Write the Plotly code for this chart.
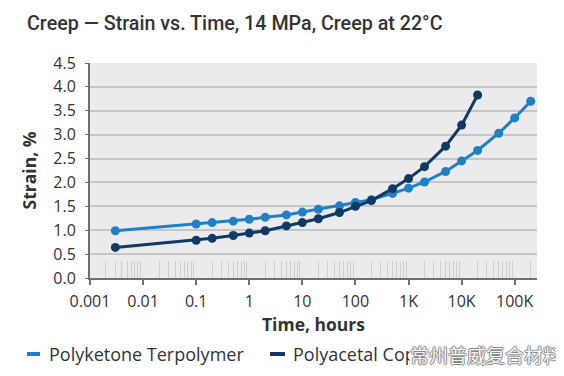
import plotly.graph_objects as go

# Data
time_pk = [0.003, 0.1, 0.2, 0.5, 1, 2, 5, 10, 20, 50, 100, 200, 500, 1000, 2000, 5000,
           10000, 20000, 50000, 100000, 200000]
strain_pk = [0.99, 1.13, 1.16, 1.19, 1.23, 1.27, 1.32, 1.38, 1.44, 1.51, 1.58, 1.64, 1.77,
             1.88, 2.01, 2.23, 2.45, 2.67, 3.03, 3.35, 3.70]

time_pa = [0.003, 0.1, 0.2, 0.5, 1, 2, 5, 10, 20, 50, 100, 200, 500, 1000, 2000, 5000,
           10000, 20000]
strain_pa = [0.64, 0.79, 0.83, 0.89, 0.94, 0.99, 1.09, 1.16, 1.24, 1.37, 1.50, 1.62, 1.87,
             2.08, 2.33, 2.76, 3.20, 3.83]

x_tickvals = [0.001, 0.01, 0.1, 1, 10, 100, 1000, 10000, 100000]
x_ticktext = ["0.001", "0.01", "0.1", "1", "10", "100", "1K", "10K", "100K"]
y_tickvals = [0, 0.5, 1.0, 1.5, 2.0, 2.5, 3.0, 3.5, 4.0, 4.5]
y_ticktext = ["0.0", "0.5", "1.0", "1.5", "2.0", "2.5", "3.0", "3.5", "4.0", "4.5"]

series_names = ["Polyketone Terpolymer", "Polyacetal Copolymer"]
colors = ["#1f80c8", "#0e3a63"]
watermark = "常州普威复合材料"

FONT = "Open Sans"

# minor log ticks (axis decoration)
minor_vals = [m * 10 ** k for k in range(-3, 6) for m in range(2, 10)]

# figure geometry (page has an 8px body margin)
W, H = 556, 368
ML, MR, MT, MB = 82, 27, 55, 98
PW, PH = W - ML - MR, H - MT - MB


def px(page_x):
    return (page_x - 8 - ML) / PW


def py(page_y):
    return 1 - (page_y - 8 - MT) / PH


fig = go.Figure()
for t, s, name, c in [(time_pk, strain_pk, series_names[0], colors[0]),
                      (time_pa, strain_pa, series_names[1], colors[1])]:
    fig.add_trace(go.Scatter(x=t, y=s, mode="lines+markers", name=name,
                             line=dict(color=c, width=3),
                             marker=dict(color=c, size=9),
                             showlegend=False))

fig.update_layout(
    width=W, height=H,
    margin=dict(l=ML, r=MR, t=MT, b=MB),
    paper_bgcolor="white",
    plot_bgcolor="#ebebed",
    font=dict(family=FONT, color="#333333", size=16),
    title=dict(text="Creep — Strain vs. Time, 14 MPa, Creep at 22°C",
               x=19 / W, xanchor="left", y=1 - 15 / H, yanchor="middle",
               font=dict(family="Roboto", size=19.7, color="#333333", weight=500)),
)

fig.update_xaxes(
    type="log", range=[-3, 5.42],
    tickvals=x_tickvals, ticktext=x_ticktext,
    showgrid=False, zeroline=False,
    showline=True, linecolor="#6e6e6e", linewidth=2,
    ticks="outside", ticklen=5, tickcolor="#6e6e6e", tickwidth=1.5,
    ticklabelstandoff=3,
    tickfont=dict(size=16, color="#333333"),
    minor=dict(tickmode="array", tickvals=minor_vals, ticks="inside", ticklen=17,
               tickcolor="#cfcfd2", tickwidth=1, showgrid=False),
    title=dict(text="<b>Time, hours</b>", font=dict(size=17.5, color="#333333"), standoff=6),
)
fig.update_yaxes(
    range=[0, 4.5],
    tickvals=y_tickvals, ticktext=y_ticktext,
    showgrid=True, gridcolor="#c6c6c9", gridwidth=1.5,
    zeroline=False,
    showline=True, linecolor="#6e6e6e", linewidth=2,
    ticks="outside", ticklen=3, tickcolor="#6e6e6e",
    ticklabelstandoff=6,
    tickfont=dict(size=16, color="#333333"),
    title=dict(text="<b>Strain, %</b>", font=dict(size=17.5, color="#333333"), standoff=12),
)

# custom legend (short line keys)
legend_items = [(27, 40, 47, series_names[0], colors[0]),
                (270, 285, 291, series_names[1], colors[1])]
for x0, x1, xt, name, c in legend_items:
    fig.add_shape(type="line", xref="paper", yref="paper",
                  x0=px(x0), x1=px(x1), y0=py(354), y1=py(354),
                  line=dict(color=c, width=4))
    fig.add_annotation(text=name, xref="paper", yref="paper",
                       x=px(xt), xanchor="left", y=py(354), yanchor="middle",
                       showarrow=False,
                       font=dict(family=FONT, size=18, color="#333333"))

fig.add_annotation(text=watermark, xref="paper", yref="paper",
                   x=px(409), xanchor="left", y=py(354), yanchor="middle",
                   showarrow=False, bgcolor="rgba(255,255,255,0.9)", borderpad=0,
                   font=dict(family="Noto Sans CJK SC", size=19, color="#f4f4f4",
                             shadow="1px 0 0 #8a8a8a, -1px 0 0 #8a8a8a, 0 1px 0 #8a8a8a, 0 -1px 0 #8a8a8a"))

fig.write_html("out.html")
